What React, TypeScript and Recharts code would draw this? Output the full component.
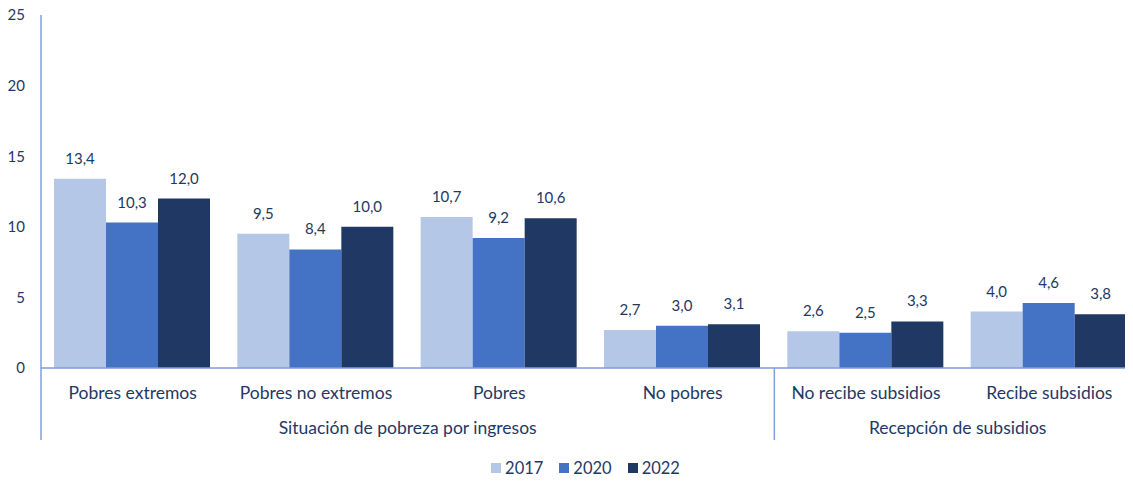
import { Bar, BarChart, LabelList, Legend, XAxis, YAxis } from "recharts";

// ---------------------------------------------------------------------------
// Data
// ---------------------------------------------------------------------------

const categories = [
  "Pobres extremos",
  "Pobres no extremos",
  "Pobres",
  "No pobres",
  "No recibe subsidios",
  "Recibe subsidios",
];

const groups = [
  { label: "Situación de pobreza por ingresos", from: 0, to: 3 },
  { label: "Recepción de subsidios", from: 4, to: 5 },
];

const years = ["2017", "2020", "2022"];
const values2017 = [13.4, 9.5, 10.7, 2.7, 2.6, 4.0];
const values2020 = [10.3, 8.4, 9.2, 3.0, 2.5, 4.6];
const values2022 = [12.0, 10.0, 10.6, 3.1, 3.3, 3.8];

const yTicks = [0, 5, 10, 15, 20, 25];

// ---------------------------------------------------------------------------
// Layout / style
// ---------------------------------------------------------------------------

const COLORS = ["#B4C7E7", "#4472C4", "#203864"];
const TEXT = "#1F3864";
const AXIS = "#7F9FD9";
const FONT = "Lato, 'Open Sans', sans-serif";

const CHART_W = 1141;
const CHART_H = 482;
const Y_AXIS_W = 41;
const PLOT_TOP = 15;
const PLOT_BOTTOM = 368;
const CAT_W = (CHART_W - Y_AXIS_W) / categories.length;

const rows = categories.map((name, i) => ({
  name,
  y2017: values2017[i],
  y2020: values2020[i],
  y2022: values2022[i],
}));

const fmt = (v: unknown) => Number(v).toFixed(1).replace(".", ",");

// Category label + group row + separators drawn from the x tick
function CategoryTick(props: any) {
  const { x, payload, index } = props;
  const group = groups.find((g) => g.from === index);
  const last = index === categories.length - 1;
  return (
    <g>
      <text
        x={x}
        y={PLOT_BOTTOM + 31}
        textAnchor="middle"
        fill={TEXT}
        fontSize={17.5}
        fontFamily={FONT}
      >
        {payload.value}
      </text>
      {group && (
        <text
          x={x - CAT_W / 2 + ((group.to - group.from + 1) * CAT_W) / 2}
          y={PLOT_BOTTOM + 66}
          textAnchor="middle"
          fill={TEXT}
          fontSize={17.5}
          fontFamily={FONT}
        >
          {group.label}
        </text>
      )}
      {group && (
        <line
          x1={x - CAT_W / 2}
          x2={x - CAT_W / 2}
          y1={PLOT_BOTTOM}
          y2={PLOT_BOTTOM + 72}
          stroke={AXIS}
          strokeWidth={1.5}
        />
      )}
      {last && (
        <line
          x1={x + CAT_W / 2}
          x2={x + CAT_W / 2}
          y1={PLOT_BOTTOM}
          y2={PLOT_BOTTOM + 72}
          stroke={AXIS}
          strokeWidth={1.5}
        />
      )}
    </g>
  );
}

function YearLegend() {
  return (
    <div
      style={{
        display: "flex",
        justifyContent: "center",
        gap: 16,
        fontFamily: FONT,
        fontSize: 16.5,
        lineHeight: "20px",
        height: 20,
        color: TEXT,
      }}
    >
      {years.map((y, i) => (
        <span key={y} style={{ display: "flex", alignItems: "center", gap: 4 }}>
          <span
            style={{ width: 10, height: 10, background: COLORS[i], display: "inline-block" }}
          />
          {y}
        </span>
      ))}
    </div>
  );
}

export default function App() {
  return (
    <div style={{ margin: -8, width: 1133, height: CHART_H, overflow: "hidden" }}>
      <BarChart
        width={CHART_W}
        height={CHART_H}
        data={rows}
        margin={{ top: PLOT_TOP, right: 0, bottom: 0, left: 0 }}
        barCategoryGap={13}
        barGap={0}
      >
        <YAxis
          width={Y_AXIS_W}
          domain={[0, 25]}
          ticks={yTicks}
          interval={0}
          tickLine={false}
          tickSize={0}
          tickMargin={16}
          axisLine={{ stroke: AXIS, strokeWidth: 1.5 }}
          tick={{ fill: TEXT, fontSize: 15, fontFamily: FONT }}
        />
        <XAxis
          dataKey="name"
          height={84}
          interval={0}
          tickLine={false}
          tickSize={0}
          axisLine={{ stroke: AXIS, strokeWidth: 1.5 }}
          tick={<CategoryTick />}
        />
        <Legend
          verticalAlign="bottom"
          height={30}
          wrapperStyle={{ top: 458, bottom: "auto", left: 41, width: 1089 }}
          content={() => <YearLegend />}
        />
        {(["y2017", "y2020", "y2022"] as const).map((key, i) => (
          <Bar
            key={key}
            dataKey={key}
            name={years[i]}
            fill={COLORS[i]}
            isAnimationActive={false}
          >
            <LabelList
              dataKey={key}
              position="top"
              offset={15}
              formatter={fmt}
              fill={TEXT}
              fontSize={15}
              fontFamily={FONT}
            />
          </Bar>
        ))}
      </BarChart>
    </div>
  );
}
